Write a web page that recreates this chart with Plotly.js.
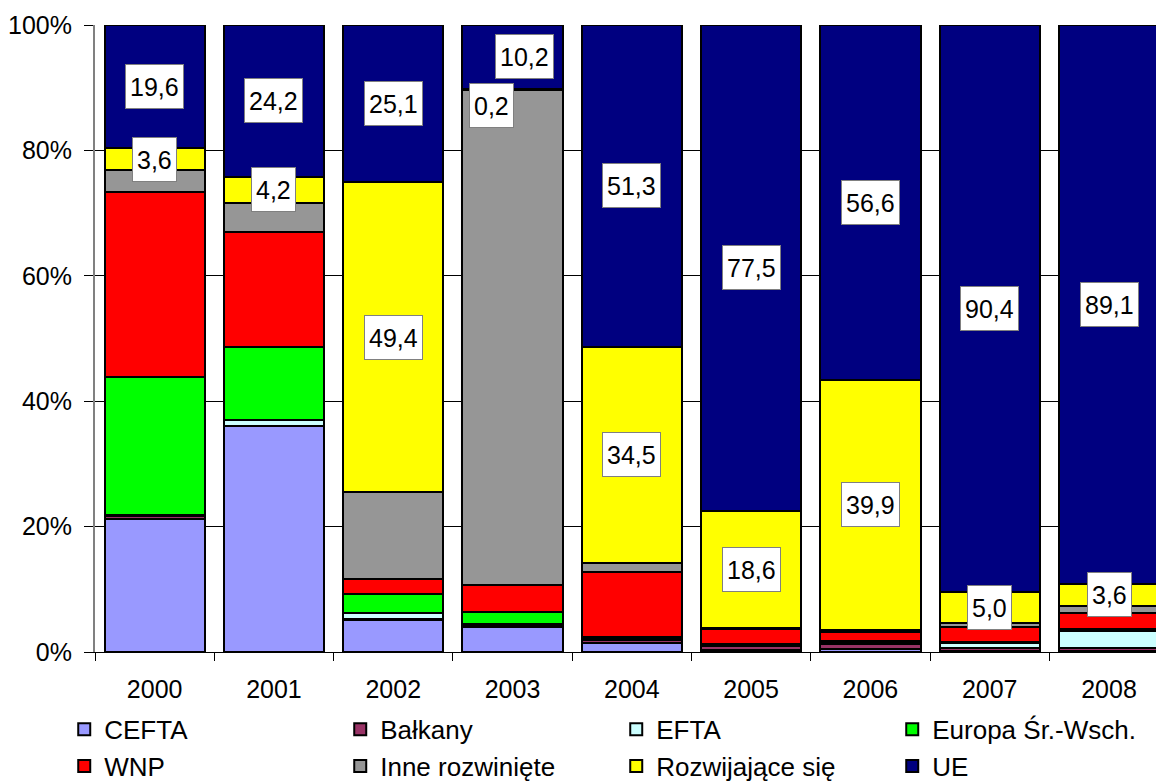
<!DOCTYPE html>
<html>
<head>
<meta charset="utf-8">
<script src="https://cdn.plot.ly/plotly-3.0.1.min.js"></script>
<style>html,body{margin:0;padding:0;background:#fff;}#chart{width:1156px;height:782px;}</style>
</head>
<body>
<div id="chart"></div>
<script>
var years = ['2000','2001','2002','2003','2004','2005','2006','2007','2008'];
var seriesNames = ['CEFTA','Bałkany','EFTA','Europa Śr.-Wsch.','WNP','Inne rozwinięte','Rozwijające się','UE'];
var cefta   = [21.2, 36.0, 5.1, 4.0, 1.4, 0.3, 0.4, 0.2, 0.1];
var balkany = [0.5, 0.0, 0.1, 0.3, 0.5, 0.6, 0.9, 0.4, 0.5];
var efta    = [0.1, 1.0, 1.0, 0.1, 0.1, 0.1, 0.1, 0.8, 2.8];
var europa  = [22.0, 11.6, 3.0, 2.0, 0.4, 0.3, 0.3, 0.2, 0.2];
var wnp     = [29.5, 18.4, 2.5, 4.3, 10.4, 2.3, 1.5, 2.4, 2.7];
var inne    = [3.5, 4.6, 13.8, 78.9, 1.4, 0.3, 0.3, 0.6, 1.0];
var rozw    = [3.6, 4.2, 49.4, 0.2, 34.5, 18.6, 39.9, 5.0, 3.6];
var ue      = [19.6, 24.2, 25.1, 10.2, 51.3, 77.5, 56.6, 90.4, 89.1];

var seriesValues = [cefta, balkany, efta, europa, wnp, inne, rozw, ue];
var colors = ['#9999FF','#993366','#CCFFFF','#00FF00','#FF0000','#969696','#FFFF00','#000080'];
var FONT = 'Liberation Sans, Arial, sans-serif';

var traces = seriesValues.map(function(vals, i){
  return {
    type: 'bar', name: seriesNames[i], x: years, y: vals,
    marker: {color: colors[i], line: {color: '#000', width: 2}},
    hoverinfo: 'name+y'
  };
});

// data labels for "Rozwijające się" (index 6) and "UE" (index 7)
var labelSeries = [6, 7];
var annotations = [];
for (var j = 0; j < years.length; j++) {
  var total = 0;
  for (var k = 0; k < seriesValues.length; k++) total += seriesValues[k][j];
  var cum = 0;
  for (var i = 0; i < seriesValues.length; i++) {
    var lo = cum; cum += seriesValues[i][j];
    if (labelSeries.indexOf(i) >= 0) {
      var mid = (lo + cum) / 2 / total * 100;
      var ann = {
        x: j, y: mid, xref: 'x', yref: 'y', showarrow: false,
        text: seriesValues[i][j].toFixed(1).replace('.', ','),
        font: {family: FONT, size: 25, color: '#000'},
        bgcolor: '#ffffff', bordercolor: '#808080', borderwidth: 1, borderpad: 4,
        height: 35
      };
      if (j === 3 && i === 7) { ann.xshift = 12; }
      if (j === 3 && i === 6) { ann.xshift = -21; ann.yshift = -16; }
      annotations.push(ann);
    }
  }
}

var layout = {
  width: 1156, height: 782,
  margin: {l: 95, r: 0, t: 25, b: 130, pad: 0, autoexpand: false},
  paper_bgcolor: '#fff', plot_bgcolor: '#fff',
  font: {family: FONT, size: 25, color: '#000'},
  barmode: 'stack', barnorm: 'percent', bargap: 0.16,
  showlegend: true,
  legend: {
    orientation: 'h', traceorder: 'normal',
    x: -0.029, xanchor: 'left', y: -0.086, yanchor: 'top',
    font: {family: FONT, size: 26, color: '#000'},
    entrywidth: 231, entrywidthmode: 'pixels',
    itemwidth: 30, bgcolor: 'rgba(0,0,0,0)'
  },
  xaxis: {
    type: 'category', range: [-0.5, 8.394],
    showgrid: false, zeroline: false,
    showline: true, linecolor: '#000', linewidth: 1,
    ticks: 'outside', tickson: 'boundaries', ticklen: 8, tickcolor: '#000', tickwidth: 1,
    ticklabelstandoff: 15,
    tickfont: {size: 25}
  },
  yaxis: {
    range: [0, 100], dtick: 20, ticksuffix: '%',
    showgrid: true, gridcolor: '#000', gridwidth: 1,
    zeroline: false,
    showline: true, linecolor: '#808080', linewidth: 2,
    ticks: 'outside', ticklen: 9, tickcolor: '#000', tickwidth: 1,
    ticklabelstandoff: 7,
    tickfont: {size: 25}
  },
  annotations: annotations
};

Plotly.newPlot('chart', traces, layout, {displayModeBar: false, staticPlot: true});
</script>
</body>
</html>
